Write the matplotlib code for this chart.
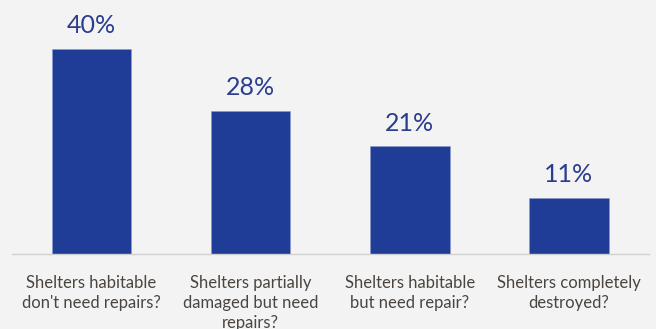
import matplotlib.pyplot as plt

categories = [
    "Shelters habitable\ndon't need repairs?",
    "Shelters partially\ndamaged but need\nrepairs?",
    "Shelters habitable\nbut need repair?",
    "Shelters completely\ndestroyed?",
]
values = [40, 28, 21, 11]
labels = ["40%", "28%", "21%", "11%"]

bg = "#f3f3f3"
bar_color = "#1f3c96"
label_color = "#2b3d8f"

fig = plt.figure(figsize=(6.56, 3.29), dpi=100, facecolor=bg)
ax = fig.add_axes([12 / 656, 1 - 254 / 329, 636.5 / 656, 254 / 329])
ax.set_facecolor(bg)

x = range(len(values))
bars = ax.bar(x, values, width=0.5, color=bar_color, edgecolor="#8a9ad0", linewidth=0.4)

for xi, v, lab in zip(x, values, labels):
    ax.text(xi, v + 2.3, lab, ha="center", va="bottom", fontsize=18,
            color=label_color, family="Lato")

ax.set_xlim(-0.5, 3.5)
ax.set_ylim(0, 49.6)
ax.set_xticks(list(x))
ax.set_xticklabels(categories, fontsize=12, color="#4a4540", family="Lato",
                   linespacing=1.3, va="top")
ax.tick_params(axis="x", length=0, pad=15)
ax.set_yticks([])
for s in ["top", "right", "left"]:
    ax.spines[s].set_visible(False)
ax.spines["bottom"].set_color("#d0d0d0")
ax.spines["bottom"].set_linewidth(1)

fig.savefig("out.png", dpi=100, facecolor=bg)
